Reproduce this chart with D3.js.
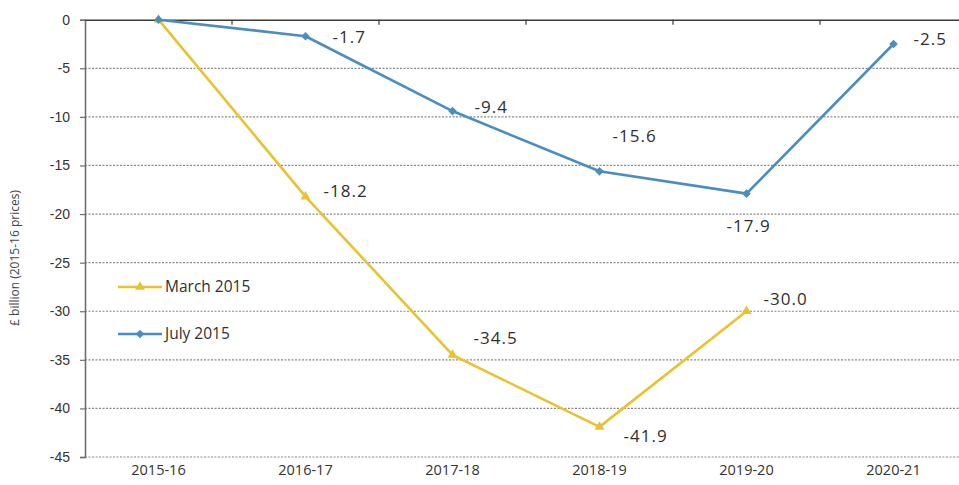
<!DOCTYPE html>
<html>
<head>
<meta charset="utf-8">
<script src="https://cdn.jsdelivr.net/npm/d3@7"></script>
<style>
  html, body { margin: 0; padding: 0; background: #fff; }
  svg { display: block; font-family: "Open Sans", "DejaVu Sans", sans-serif; }
</style>
</head>
<body>
<svg id="chart" width="959" height="485"></svg>
<script>
// Fiscal years on the category axis
const categories = ["2015-16", "2016-17", "2017-18", "2018-19", "2019-20", "2020-21"];

// £ billion, 2015-16 prices
const march2015 = [0, -18.2, -34.5, -41.9, -30.0, null];
const july2015  = [0, -1.7, -9.4, -15.6, -17.9, -2.5];

const yTicks = [0, -5, -10, -15, -20, -25, -30, -35, -40, -45];

// Per-point label offsets (px) so labels sit clear of the lines
const marchLabelOffsets = [null, [18, -6], [21, -17], [24, 9], [17, -12], null];
const julyLabelOffsets  = [null, [27, 1], [22, -4], [13, -35], [-20, 32], [20, -5]];

const series = [
  { name: "March 2015", values: march2015, offsets: marchLabelOffsets, color: "#EAC12E", marker: "triangle" },
  { name: "July 2015",  values: july2015,  offsets: julyLabelOffsets,  color: "#4A8DC0", marker: "diamond" }
];

// Plain hyphen for negative numbers
const fmt1 = v => (v < 0 ? "-" : "") + Math.abs(v).toFixed(1);
const fmt0 = v => (v < 0 ? "-" : "") + Math.abs(v);

const svg = d3.select("#chart");

const x = d3.scaleBand().domain(categories).range([85, 85 + 6 * 147]);
const y = d3.scaleLinear().domain([-45, 0]).range([457, 19.7]);
const cx = c => x(c) + x.bandwidth() / 2;

// Dotted horizontal gridlines
svg.append("g")
  .selectAll("line")
  .data(yTicks.filter(t => t !== 0))
  .join("line")
  .attr("x1", 85).attr("x2", 959)
  .attr("y1", d => y(d)).attr("y2", d => y(d))
  .attr("stroke", "#888")
  .attr("stroke-width", 1.2)
  .attr("stroke-dasharray", "2,1.5");

// Value axis
const yAxis = svg.append("g")
  .attr("transform", "translate(85,0)")
  .call(d3.axisLeft(y).tickValues(yTicks).tickSize(5).tickPadding(10).tickFormat(fmt0));
yAxis.select(".domain").attr("stroke", "#6f6f6f").attr("stroke-width", 1.6);
yAxis.selectAll(".tick line").attr("stroke", "#6f6f6f").attr("stroke-width", 1.2);
yAxis.selectAll(".tick text").attr("fill", "#333").style("font-size", "14px");

// Category axis sitting on the zero line
const xAxis = svg.append("g")
  .attr("transform", `translate(0,${y(0)})`)
  .call(d3.axisBottom(x).tickSize(0).tickFormat(""));
xAxis.select(".domain").attr("stroke", "#3a3a3a").attr("stroke-width", 1.6);
svg.append("g")
  .selectAll("line")
  .data(d3.range(1, 7))
  .join("line")
  .attr("x1", i => 85 + i * x.step()).attr("x2", i => 85 + i * x.step())
  .attr("y1", y(0)).attr("y2", y(0) + 5)
  .attr("stroke", "#3a3a3a").attr("stroke-width", 1.2);

// Category labels along the bottom
svg.append("g")
  .selectAll("text")
  .data(categories)
  .join("text")
  .attr("x", d => cx(d))
  .attr("y", 470)
  .attr("dy", "0.35em")
  .attr("text-anchor", "middle")
  .attr("fill", "#333")
  .style("font-size", "14.5px")
  .text(d => d);

// Axis title
svg.append("text")
  .attr("transform", "translate(15,258) rotate(-90)")
  .attr("text-anchor", "middle")
  .attr("dy", "0.35em")
  .attr("fill", "#444")
  .style("font-size", "12px")
  .text("£ billion (2015-16 prices)");

const markerPath = (type) => type === "diamond"
  ? d3.symbol().type(d3.symbolDiamond2).size(48)()
  : d3.symbol().type(d3.symbolTriangle).size(42)();

const line = d3.line()
  .defined(d => d.v !== null)
  .x(d => cx(d.c))
  .y(d => y(d.v));

series.forEach(s => {
  const pts = categories.map((c, i) => ({ c, v: s.values[i], off: s.offsets[i] }));
  const g = svg.append("g");
  g.append("path")
    .datum(pts)
    .attr("d", line)
    .attr("fill", "none")
    .attr("stroke", s.color)
    .attr("stroke-width", 2.6)
    .attr("stroke-linejoin", "round");
  g.selectAll("path.pt")
    .data(pts.filter(d => d.v !== null))
    .join("path")
    .attr("class", "pt")
    .attr("transform", d => `translate(${cx(d.c)},${y(d.v)})`)
    .attr("d", markerPath(s.marker))
    .attr("fill", s.color);
  g.selectAll("text")
    .data(pts.filter(d => d.v !== null && d.off))
    .join("text")
    .attr("x", d => cx(d.c) + d.off[0])
    .attr("y", d => y(d.v) + d.off[1])
    .attr("dy", "0.35em")
    .attr("fill", "#2f2f2f")
    .style("font-size", "17px")
    .style("letter-spacing", "1px")
    .text(d => fmt1(d.v));
});

// Legend
const legend = svg.append("g");
series.forEach((s, i) => {
  const ly = i === 0 ? 287 : 334;
  legend.append("line")
    .attr("x1", 118).attr("x2", 162)
    .attr("y1", ly).attr("y2", ly)
    .attr("stroke", s.color).attr("stroke-width", 2.6);
  legend.append("path")
    .attr("transform", `translate(140,${ly})`)
    .attr("d", markerPath(s.marker))
    .attr("fill", s.color);
  legend.append("text")
    .attr("x", 165).attr("y", ly)
    .attr("dy", "0.35em")
    .attr("fill", "#2f2f2f")
    .style("font-size", "15.5px")
    .text(s.name);
});
</script>
</body>
</html>
